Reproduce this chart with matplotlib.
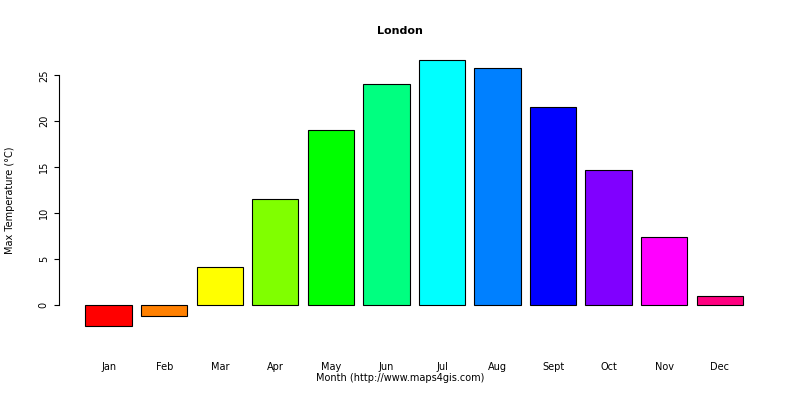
import matplotlib.pyplot as plt

months = ['Jan', 'Feb', 'Mar', 'Apr', 'May', 'Jun', 'Jul', 'Aug', 'Sept', 'Oct', 'Nov', 'Dec']
max_temp = [-2.3, -1.2, 4.2, 11.6, 19.1, 24.1, 26.7, 25.8, 21.6, 14.7, 7.4, 1.0]
colors = ['#FF0000', '#FF8000', '#FFFF00', '#80FF00', '#00FF00', '#00FF80',
          '#00FFFF', '#0080FF', '#0000FF', '#8000FF', '#FF00FF', '#FF0080']

fig = plt.figure(figsize=(8, 4), dpi=100)
ax = fig.add_axes([0.074, 0.1575, 0.8875, 0.72])

# R-style barplot: width 1, space 0.2
xs = [0.7 + 1.2 * i for i in range(len(months))]
ax.bar(xs, max_temp, width=1.0, color=colors, edgecolor='black', linewidth=0.8)

ax.set_xlim(0.2 - 0.568, 14.4 + 0.568)
ax.set_ylim(-3.46, 27.86)
for s in ['top', 'right', 'bottom']:
    ax.spines[s].set_visible(False)
ax.spines['left'].set_bounds(0, 25)
ax.set_yticks([0, 5, 10, 15, 20, 25])
ax.set_yticklabels(['0', '5', '10', '15', '20', '25'], rotation=90, va='center', fontsize=7)
ax.set_xticks(xs)
ax.set_xticklabels(months, fontsize=7)
ax.tick_params(axis='x', length=0, pad=18)
ax.tick_params(axis='y', pad=4)

fig.text(0.5, 0.922, 'London', ha='center', va='center', fontsize=8, fontweight='bold')
fig.text(0.5, 0.055, 'Month (http://www.maps4gis.com)', ha='center', va='center', fontsize=7)
fig.text(0.013, 0.5, 'Max Temperature (°C)', ha='center', va='center', rotation=90, fontsize=7)

fig.savefig('out.png', dpi=100)
